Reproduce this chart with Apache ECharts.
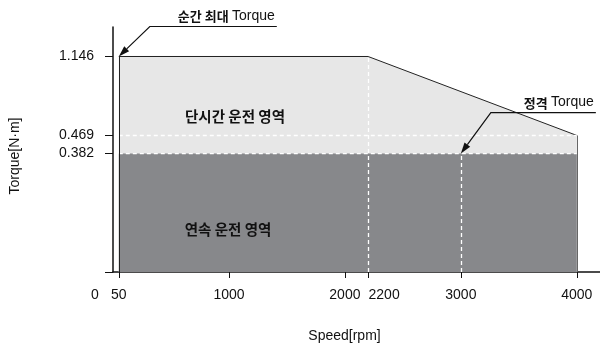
<!DOCTYPE html>
<html>
<head>
<meta charset="utf-8">
<script src="https://cdn.jsdelivr.net/npm/echarts@6.0.0/dist/echarts.min.js"></script>
<style>html,body{margin:0;padding:0;background:#fff}#main{width:600px;height:349px}</style>
</head>
<body>
<div id="main"></div>
<script>
// 속도 / 토크 데이터
var speedTicks = [0, 50, 1000, 2000, 2200, 3000, 4000];
var torqueTicks = [0.382, 0.469, 1.146];
var peakSpeed = [50, 2200, 4000];        // 단시간 운전 영역 상단
var peakTorque = [1.146, 1.146, 0.469];
var ratedSpeed = [50, 4000];             // 연속 운전 영역 상단
var ratedTorque = [0.382, 0.382];
var ratedSpeedPoint = 3000;
var Y_MIN = 0.1, Y_MAX = 1.6;

var FONT = '"Liberation Sans", "Noto Sans CJK KR", sans-serif';
var KFONT = '"Noto Sans CJK KR", sans-serif';

function pairs(xs, ys) {
    var out = [];
    for (var i = 0; i < xs.length; i++) out.push([xs[i], ys[i]]);
    return out;
}

var myChart = echarts.init(document.getElementById('main'));
var dash = {color: '#fff', type: [4, 3], width: 1.3};
var option = {
    animation: false,
    grid: {left: 113, right: 0, top: 27, bottom: 77, outerBoundsMode: 'none'},
    xAxis: {
        type: 'value', min: 0, max: 4200,
        name: 'Speed[rpm]', nameLocation: 'middle', nameGap: 57,
        nameTextStyle: {fontFamily: FONT, fontSize: 14, color: '#111', padding: [0, 24, 0, 0]},
        axisLine: {lineStyle: {color: '#111', width: 1.5}},
        axisTick: {length: 6, lineStyle: {color: '#111'}, customValues: speedTicks.slice(1)},
        splitLine: {show: false},
        axisLabel: {
            fontFamily: FONT, fontSize: 14, color: '#111', margin: 16,
            customValues: speedTicks,
            formatter: function (v) {
                if (v === 0) return '{o|0}';
                if (v === 2200) return '{r|2200}';
                return v + '';
            },
            rich: {
                o: {fontFamily: FONT, fontSize: 14, color: '#111', padding: [0, 36, 0, 0]},
                r: {fontFamily: FONT, fontSize: 14, color: '#111', padding: [0, 0, 0, 32]}
            }
        }
    },
    yAxis: {
        type: 'log', logBase: 10, min: Y_MIN, max: Y_MAX,
        name: 'Torque[N·m]', nameLocation: 'middle', nameGap: 91, nameRotate: 90,
        nameTextStyle: {fontFamily: FONT, fontSize: 14, color: '#111', padding: [0, 13, 0, 0]},
        axisLine: {lineStyle: {color: '#111', width: 1.5}},
        axisTick: {length: 8, lineStyle: {color: '#111'}, customValues: [Y_MIN].concat(torqueTicks)},
        splitLine: {show: false},
        axisLabel: {
            fontFamily: FONT, fontSize: 14, color: '#111', margin: 19,
            customValues: torqueTicks,
            formatter: function (v) { return v.toFixed(3); }
        }
    },
    series: [
        {
            type: 'line', z: 2, symbol: 'none',
            data: pairs(peakSpeed, peakTorque),
            lineStyle: {color: '#222', width: 1},
            areaStyle: {color: '#e7e7e7', opacity: 1, origin: 'start'}
        },
        {
            type: 'line', z: 3, symbol: 'none',
            data: pairs(ratedSpeed, ratedTorque),
            lineStyle: dash,
            areaStyle: {color: '#87888b', opacity: 1, origin: 'start'},
            markLine: {
                silent: true, symbol: 'none', label: {show: false},
                lineStyle: dash,
                data: [
                    [{coord: [peakSpeed[1], Y_MIN]}, {coord: [peakSpeed[1], peakTorque[1]]}],
                    [{coord: [ratedSpeedPoint, Y_MIN]}, {coord: [ratedSpeedPoint, ratedTorque[0]]}],
                    [{coord: [peakSpeed[0], peakTorque[2]]}, {coord: [peakSpeed[2], peakTorque[2]]}],
                    [{coord: [peakSpeed[0], Y_MIN], lineStyle: {color: '#222', type: 'solid', width: 1}},
                     {coord: [peakSpeed[0], peakTorque[0]]}],
                    [{coord: [peakSpeed[2], Y_MIN], lineStyle: {color: '#666', type: 'solid', width: 1}},
                     {coord: [peakSpeed[2], peakTorque[2]]}]
                ]
            }
        }
    ]
};
myChart.setOption(option);

// 주석 화살표
var rich = {
    k: {fontFamily: KFONT, fontSize: 13, fontWeight: 'bold', fill: '#111', color: '#111'},
    t: {fontFamily: FONT, fontSize: 14, fill: '#111', color: '#111'}
};
function callout(tip, ex, ey, len, text) {
    var elbow = [tip[0] + ex, tip[1] + ey];
    var end = [elbow[0] + len, elbow[1]];
    var dx = tip[0] - elbow[0], dy = tip[1] - elbow[1];
    var d = Math.sqrt(dx * dx + dy * dy);
    var ux = dx / d, uy = dy / d, nx = -uy, ny = ux;
    var bx = tip[0] - ux * 11, by = tip[1] - uy * 11;
    return [
        {type: 'polyline', shape: {points: [end, elbow, [bx, by]]},
         style: {stroke: '#111', lineWidth: 1.2, fill: null}, z: 10},
        {type: 'polygon', shape: {points: [tip, [bx + nx * 3.5, by + ny * 3.5], [bx - nx * 3.5, by - ny * 3.5]]},
         style: {fill: '#111'}, z: 10},
        {type: 'text', x: end[0] - 2, y: elbow[1] - 3, z: 10,
         style: {text: text, align: 'right', verticalAlign: 'bottom', rich: rich}}
    ];
}

var tipPeak = myChart.convertToPixel({gridIndex: 0}, [peakSpeed[0], peakTorque[0]]);
var tipRated = myChart.convertToPixel({gridIndex: 0}, [ratedSpeedPoint, ratedTorque[0]]);
var els = callout(tipPeak, 31, -30, 127, '{k|순간 최대} {t|Torque}')
    .concat(callout(tipRated, 30, -41, 105, '{k|정격} {t|Torque}'));
var region = {align: 'center', verticalAlign: 'middle', fontFamily: KFONT, fontSize: 14.5, fontWeight: 'bold', fill: '#111'};
els.push({type: 'text', x: 235, y: 116, z: 10, style: echarts.util.extend({text: '단시간 운전 영역'}, region)});
els.push({type: 'text', x: 228, y: 229, z: 10, style: echarts.util.extend({text: '연속 운전 영역'}, region)});
myChart.setOption({graphic: els});
</script>
</body>
</html>
